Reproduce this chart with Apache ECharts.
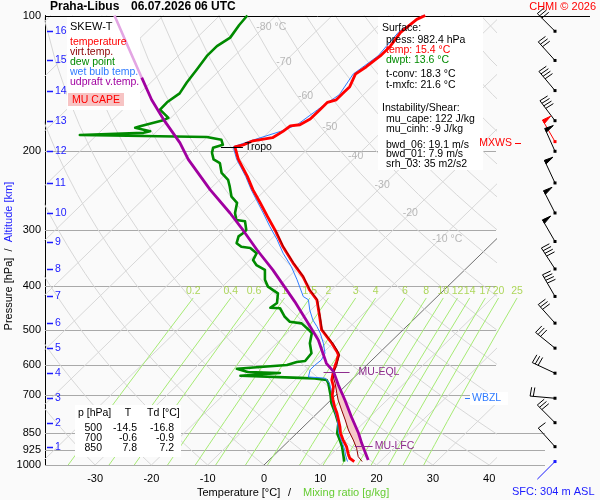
<!DOCTYPE html>
<html><head><meta charset="utf-8">
<script src="https://cdn.jsdelivr.net/npm/echarts@6/dist/echarts.min.js"></script>
<style>html,body{margin:0;padding:0;background:#fafafa}#c{width:600px;height:500px}</style>
</head><body><div id="c"></div>
<script>
// ---------------- data (pressure hPa / temperature °C) ----------------
const tempP = [982.4,966,942,910,880,850,822,794,767,742,717,700,669,647,625,604,589,569,559,536,518,500,468,429,408,381,355,327,300,280,261,244,228,209,196,194,190,187,181,176,175,170,162,156,154,149,144,135,130,123,117,109,102,100];
const tempT = [15.4,14.0,12.8,11.3,9.5,7.8,6.5,5.0,3.5,1.9,0.4,-0.6,-2.0,-3.5,-4.5,-5.4,-6.0,-6.9,-7.8,-10.2,-12.3,-14.5,-17.2,-20.8,-23.9,-27.5,-31.8,-36.5,-41.0,-44.8,-48.6,-52.3,-55.7,-60.4,-63.3,-62.2,-61.2,-58.3,-57.6,-57.3,-55.8,-55.0,-55.0,-55.0,-53.9,-53.9,-53.9,-55.2,-54.6,-54.1,-54.1,-54.8,-54.3,-53.5];

const dewP = [982.4,958,910,880,850,808,767,729,700,658,647,642,640,633,624,621,611,599,590,587,564,536,509,500,484,480,468,448,447,436,415,401,387,368,359,350,338,329,327,321,310,305,300,287,285,275,261,253,240,232,224,213,209,202,197,194,189,186.3,184.5,182.4,181,177.8,176.4,171,169,162,156,149,141,132,123,117,112,105,100];
const dewT = [13.6,12.6,10.5,8.9,7.2,5.6,3.2,0.7,-0.9,-3.5,-4.4,-6.8,-9.5,-20.5,-14.0,-19.9,-22.4,-14.2,-13.0,-11.7,-12.0,-14.1,-15.6,-16.8,-19.2,-21.6,-23.4,-25.8,-27.6,-27.3,-28.9,-31.9,-33.7,-35.5,-37.9,-39.4,-40.0,-42.1,-43.9,-45.4,-46.3,-46.1,-46.1,-47.9,-49.7,-51.2,-52.7,-54.8,-57.0,-58.5,-60.9,-63.0,-64.8,-66.3,-67.0,-65.8,-67.0,-70.1,-93.0,-82.1,-81.2,-84.5,-83.9,-80.9,-80.4,-83.4,-83.5,-82.9,-83.6,-84.2,-84.9,-84.9,-84.1,-84.8,-85.1];

const wetP = [982.4,958,926,895,865,836,794,729,692,658,641,637,614,599,584,564,536,509,492,476,452,429,422,387,362,338,315,295,275,244,228,209,196,190,181,175,162,150,135,123,109,100];
const wetT = [14.2,13.0,11.6,10.0,8.3,6.8,4.8,0.9,-1.1,-3.3,-5.0,-8.2,-9.2,-9.2,-9.0,-9.6,-11.7,-14.1,-15.9,-17.8,-20.2,-22.3,-23.8,-28.0,-31.4,-35.3,-38.9,-42.5,-46.2,-52.6,-56.0,-60.7,-63.6,-61.6,-58.0,-56.3,-55.4,-54.3,-55.6,-54.5,-55.2,-54.0];

const tvP = [982.4,958,918,880,836,794,754,717,692,658,641,620,604,589,569,559,536,518,500,468,429,408,381,355,327,300];
const tvT = [16.8,15.2,13.4,11.3,8.6,6.2,3.7,1.3,-0.2,-2.3,-3.5,-4.7,-5.1,-5.8,-6.7,-7.6,-10.0,-12.2,-14.4,-17.1,-20.7,-23.8,-27.4,-31.7,-36.4,-40.9];

const parcelP = [975,934,895,850,781,717,664,620,594,527,476,433,368,332,300,275,244,209,192,170,154,137.5];
const parcelT = [17.6,15.5,13.4,11.0,6.7,2.5,-1.4,-4.7,-7.5,-13.2,-19.0,-24.4,-34.1,-40.6,-46.7,-52.1,-59.9,-69.3,-73.8,-81.1,-86.7,-92.5];
const parcelUpP = [137.5,118,100];
const parcelUpT = [-92.5,-100.3,-108.7];

const kmVal = [1,2,3,4,5,6,7,8,9,10,11,12,13,14,15,16];
const kmP = [910.4,805.1,710.4,624.8,549.6,483.5,421.7,366.4,318.3,275.0,235.8,200.5,171.4,146.9,125.9,108.4];

const windP   = [108.4,125.9,146.9,171.4,190.8,200.5,235.8,275.0,318.3,366.4,421.7,483.5,549.6,624.8,710.4,805.1,910.4,982.4];
const windDir = [315,318,320,323,330,336,335,333,330,327,330,318,309,295,275,315,318,225];
const windSpd = [30,30,40,40,50,50,50,50,50,40,40,30,30,30,20,30,10,0];
const windKind = ['','','','','max','','','','','','','','','','','','','sfc'];

const markerName = ['Tropo','MU-EQL','MU-LFC'];
const markerP = [196,620,906];
const markerT = [-63.3,-4.7,14.0];
const wbzlP = 710;
const capeTopP = 620, capeBottomP = 935;

const xTicks = [-30,-20,-10,0,10,20,30,40];
const pTicks = [100,200,300,400,500,600,700,850,925,1000];
const isoLabelT = [-80,-70,-60,-50,-40,-30,-20,-10];
const isoLabelP = [106,127,151,177,206,239,275,314];
const isoLabelTxt = ['-80 °C','-70','-60','-50','-40','-30','-20','-10 °C'];
const mrW = [0.2,0.4,0.6,1,1.5,2,3,4,6,8,10,12,14,17,20,25];
const isoList = [-130,-120,-110,-100,-90,-80,-70,-60,-50,-40,-30,-20,-10,10,20,30,40];
const thetaList = [-40,-30,-20,-10,0,10,20,30,40,50,60,70,80,90,100,110,120,130,140,150,160,170,180];

const tableP = ['500','700','850'];
const tableT = ['-14.5','-0.6','7.8'];
const tableTd = ['-16.8','-0.9','7.2'];

// ---------------- helpers ----------------
const FONT = '"Liberation Sans", Arial, sans-serif';
const SKEW = 82.14;
const sx = (T, p) => T + SKEW * Math.log10(1000 / p);
const pts = (P, T) => P.map((p, i) => [sx(T[i], p), p]);
const tdFromW = (w, p) => { const e = w * p / (622 + w); const l = Math.log(e / 6.112); return 243.5 * l / (17.67 - l); };

const series = [];
// isotherms (clipped grid 1)
isoList.forEach(t => series.push({type:'line', xAxisIndex:1, yAxisIndex:1, z:1, silent:true, symbol:'none', animation:false,
  data:[[sx(t,1000),1000],[sx(t,100),100]], lineStyle:{color:'#d7d7d7', width:1}}));
series.push({type:'line', xAxisIndex:1, yAxisIndex:1, z:1, silent:true, symbol:'none',
  data:[[sx(0,1000),1000],[sx(0,100),100]], lineStyle:{color:'#707070', width:1}});
// dry adiabats
const adP = []; for (let p = 1000; p >= 100; p -= 25) adP.push(p);
thetaList.forEach(th => series.push({type:'line', xAxisIndex:1, yAxisIndex:1, z:1, silent:true, symbol:'none',
  data: adP.map(p => [sx((th + 273.15) * Math.pow(p / 1000, 0.2857) - 273.15, p), p]),
  lineStyle:{color:'#d7d7d7', width:1}}));
// mixing ratio lines
const mrPs = [1000,900,800,700,600,500,425];
mrW.forEach(w => series.push({type:'line', z:1, silent:true, symbol:'none',
  data: mrPs.map(p => [sx(tdFromW(w,p),p), p]), lineStyle:{color:'#a6ea74', width:1}}));
series.push({type:'scatter', z:1, silent:true, symbolSize:0, itemStyle:{color:'transparent'},
  data: mrW.map(w => [sx(tdFromW(w,425),425), 425, String(w)]),
  label:{show:true, formatter:d=>d.data[2], position:'inside', align:'center', verticalAlign:'bottom', offset:[0,-1], color:'#9acd32', fontSize:10.5, fontFamily:FONT}});
// isotherm labels
series.push({type:'scatter', z:1, silent:true, symbolSize:0, itemStyle:{color:'transparent'},
  data: isoLabelT.map((t,i) => [sx(t, isoLabelP[i]), isoLabelP[i], isoLabelTxt[i]]),
  label:{show:true, formatter:d=>d.data[2], position:'inside', align:'left', verticalAlign:'middle', offset:[-8,0], color:'#a8a8a8', fontSize:10.5, fontFamily:FONT}});
// pressure lines
const hline = (color) => (params, api) => {
  const cs = params.coordSys; const y = Math.round(api.coord([0, api.value(1)])[1]) + 0.5;
  return {type:'line', shape:{x1:cs.x, y1:y, x2:cs.x+cs.width, y2:y}, style:{stroke:color, lineWidth:1}};
};
series.push({type:'custom', xAxisIndex:1, yAxisIndex:1, z:1, silent:true, data:[200,300,400,500,600,700].map(p=>[0,p]), renderItem:hline('#a9a9a9')});
series.push({type:'custom', z:1, silent:true, data:[850,925,1000].map(p=>[0,p]), renderItem:hline('#a9a9a9')});
series.push({type:'custom', z:4, silent:true, data:[[0,100]], renderItem:(params, api) => {
  const cs = params.coordSys; const y = Math.round(api.coord([0, 100])[1]) + 0.5;
  return {type:'line', shape:{x1:cs.x, y1:y, x2:cs.x+cs.width+45, y2:y}, style:{stroke:'#000', lineWidth:1}};
}});
// CAPE area
const capePoly = pts(parcelP, parcelT).filter(d => d[1] >= capeTopP && d[1] <= capeBottomP)
  .concat(pts(tvP, tvT).filter(d => d[1] >= capeTopP && d[1] <= capeBottomP).reverse());
series.push({type:'custom', z:3, silent:true, data:[[0,500]], renderItem:(params, api) => ({
  type:'polygon', shape:{points: capePoly.map(d => api.coord(d))}, style:{fill:'#f6c8c8', stroke:null}})});
// profiles
const prof = (P, T, color, width, z) => ({type:'line', z, silent:true, symbol:'none', data:pts(P,T), lineStyle:{color, width, join:'round'}});
series.push(prof(dewP, dewT, '#008a00', 2.6, 4));
series.push(prof(wetP, wetT, '#2f7bff', 1, 4));
series.push(prof(tempP, tempT, '#ff0000', 2.8, 4));
series.push(prof(tvP, tvT, '#8b0000', 1, 4));
series.push(prof(parcelUpP, parcelUpT, '#e3a6e3', 2.6, 4));
series.push(prof(parcelP, parcelT, '#a000a0', 2.8, 4));
// markers
const mStyle = {'Tropo':{c:'#000', l:-14, r:8, t:10}, 'MU-EQL':{c:'#8e2d8e', l:-10, r:16, t:25}, 'MU-LFC':{c:'#8e2d8e', l:-8, r:10, t:12}};
series.push({type:'custom', z:6, silent:true, data: markerName.map((n,i) => [sx(markerT[i], markerP[i]), markerP[i], i]),
  renderItem:(params, api) => {
    const [x, y0] = api.coord([api.value(0), api.value(1)]); const y = Math.round(y0) + 0.5;
    const s = mStyle[markerName[api.value(2)]];
    return {type:'group', children:[
      {type:'line', shape:{x1:x+s.l, y1:y, x2:x+s.r, y2:y}, style:{stroke:s.c, lineWidth:1}},
      {type:'text', x:x+s.t, y:y, style:{text:markerName[api.value(2)], fill:s.c, fontSize:10.5, fontFamily:FONT, verticalAlign:'middle'}}
    ]};
  }});
series.push({type:'custom', xAxisIndex:1, yAxisIndex:1, z:6, silent:true, data:[[0, wbzlP]],
  renderItem:(params, api) => {
    const cs = params.coordSys; const y = Math.round(api.coord([0, api.value(1)])[1]) + 0.5;
    const x = cs.x + cs.width - 31;
    return {type:'group', children:[
      {type:'rect', shape:{x:x+5, y:y-6.5, width:38, height:13}, style:{fill:'#fff'}},
      {type:'line', shape:{x1:x, y1:y, x2:x+5, y2:y}, style:{stroke:'#2f7bff', lineWidth:1}},
      {type:'text', x:x+7, y:y, style:{text:'WBZL', fill:'#2f7bff', fontSize:10.5, fontFamily:FONT, verticalAlign:'middle'}}
    ]};
  }});
// altitude labels
series.push({type:'custom', z:6, silent:true, data: kmP.map((p,i) => [0, p, kmVal[i]]),
  renderItem:(params, api) => {
    const cs = params.coordSys; const y = Math.round(api.coord([0, api.value(1)])[1]) + 0.5;
    return {type:'group', children:[
      {type:'line', shape:{x1:cs.x+2, y1:y, x2:cs.x+8, y2:y}, style:{stroke:'#1a1aff', lineWidth:1.5}},
      {type:'text', x:cs.x+10, y:y, style:{text:String(api.value(2)), fill:'#1a1aff', fontSize:10.5, fontFamily:FONT, verticalAlign:'middle'}}
    ]};
  }});
// wind barbs
series.push({type:'custom', xAxisIndex:2, yAxisIndex:2, z:6, silent:true,
  data: windP.map((p,i) => [15, p, windDir[i], windSpd[i], i]),
  renderItem:(params, api) => {
    const [bx, by] = api.coord([api.value(0), api.value(1)]);
    const dir = api.value(2) * Math.PI / 180, spd = api.value(3), kind = windKind[api.value(4)];
    const col = kind === 'max' ? '#ff0000' : kind === 'sfc' ? '#1a1aff' : '#000';
    const L = 25, ux = Math.sin(dir), uy = -Math.cos(dir);
    const tx = bx + ux * L, ty = by + uy * L;
    const a = 95 * Math.PI / 180;
    const vx = ux * Math.cos(a) - uy * Math.sin(a), vy = ux * Math.sin(a) + uy * Math.cos(a);
    const ch = [
      {type:'line', shape:{x1:bx, y1:by, x2:tx, y2:ty}, style:{stroke:col, lineWidth:1}},
      {type:'rect', shape:{x:bx-1.5, y:by-1.5, width:3, height:3}, style:{fill:col}}
    ];
    let s = spd, pos = 0; const BL = 9, step = 3.2;
    while (s >= 50) {
      const p1 = [tx - ux*pos, ty - uy*pos], p2 = [tx - ux*(pos+4), ty - uy*(pos+4)];
      ch.push({type:'polygon', shape:{points:[p1, [p1[0]+vx*BL, p1[1]+vy*BL], p2]}, style:{fill:col, stroke:col, lineWidth:1}});
      pos += 5.5; s -= 50;
    }
    while (s >= 10) {
      const p1 = [tx - ux*pos, ty - uy*pos];
      ch.push({type:'line', shape:{x1:p1[0], y1:p1[1], x2:p1[0]+vx*BL, y2:p1[1]+vy*BL}, style:{stroke:col, lineWidth:1}});
      pos += step; s -= 10;
    }
    if (s >= 5) {
      if (pos === 0) pos = step;
      const p1 = [tx - ux*pos, ty - uy*pos];
      ch.push({type:'line', shape:{x1:p1[0], y1:p1[1], x2:p1[0]+vx*BL/2, y2:p1[1]+vy*BL/2}, style:{stroke:col, lineWidth:1}});
    }
    if (kind === 'max') {
      const y = Math.round(by) + 1.5;
      ch.push({type:'text', x:bx-43, y:y, style:{text:'MXWS', fill:'#ff0000', fontSize:10.5, fontFamily:FONT, align:'right', verticalAlign:'middle'}});
      ch.push({type:'line', shape:{x1:bx-40, y1:y, x2:bx-34, y2:y}, style:{stroke:'#ff0000', lineWidth:1}});
    }
    return {type:'group', children:ch};
  }});

// ---------------- static text ----------------
const G = [];
const rect = (x,y,w,h,fill,z) => G.push({type:'rect', z:z||2, silent:true, shape:{x,y,width:w,height:h}, style:{fill}});
const txt = (x,y,text,fill,o) => { o = o || {}; G.push({type:'text', z:10, silent:true, x, y, rotation:o.rot||0,
  style:{text, fill:fill||'#000', fontSize:o.size||10.5, fontFamily:FONT, fontWeight:o.bold?'bold':'normal', align:o.align||'left', verticalAlign:'middle'}}); };
rect(67,16,73,94,'#ffffff');
rect(68,93,56,13,'#f7c4c4',3);
rect(378,16,105,154,'#ffffff');
rect(75,405,106,52,'#ffffff');

txt(50,7,'Praha-Libus','#000',{bold:true,size:12});
txt(131,7,'06.07.2026 06 UTC','#000',{bold:true,size:12});
txt(596,7,'CHMI © 2026','#ff0000',{align:'right',size:11});

txt(70,27,'SKEW-T','#000',{size:11});
txt(70,42,'temperature','#ff0000');
txt(70,52,'virt.temp.','#8b0000');
txt(70,62,'dew point','#008a00');
txt(70,72,'wet bulb temp.','#2f7bff');
txt(70,82,'udpraft v.temp.','#a000a0');
txt(96,100,'MU CAPE','#ff0000',{align:'center'});

txt(382,28,'Surface:');
txt(386,40,'press: 982.4 hPa');
txt(386,50,'temp: 15.4 °C','#ff0000');
txt(386,60,'dwpt: 13.6 °C','#008a00');
txt(386,74,'t-conv: 18.3 °C');
txt(386,85,'t-mxfc: 21.6 °C');
txt(382,108,'Instability/Shear:');
txt(386,119,'mu_cape: 122 J/kg');
txt(386,129,'mu_cinh: -9 J/kg');
txt(386,145,'bwd_06: 19.1 m/s');
txt(386,154,'bwd_01: 7.9 m/s');
txt(386,164,'srh_03: 35 m2/s2');

txt(78,413,'p [hPa]');
txt(128,413,'T','#000',{align:'center'});
txt(147,413,'Td [°C]');
tableP.forEach((v,i) => { const y = 428 + i*10;
  txt(102,y,v,'#000',{align:'right'}); txt(137,y,tableT[i],'#000',{align:'right'}); txt(174,y,tableTd[i],'#000',{align:'right'}); });

txt(9,212,'Altitude [km]','#1a1aff',{rot:Math.PI/2,align:'center',size:11});
txt(9,250,'/','#000',{rot:Math.PI/2,align:'center',size:11});
txt(9,294,'Pressure [hPa]','#000',{rot:Math.PI/2,align:'center',size:11});
txt(197,493,'Temperature [°C]','#000',{size:11});
txt(288,493,'/','#000',{size:11});
txt(303,493,'Mixing ratio [g/kg]','#66cc33',{size:11});
txt(512,492,'SFC: 304 m ASL','#1a1aff',{size:11});

const option = {
  backgroundColor:'#fafafa', animation:false,
  textStyle:{fontFamily:FONT},
  grid:[
    {left:45, right:55, top:15.5, bottom:35},
    {left:45, right:104, top:15.5, bottom:35},
    {left:540, right:0, top:15.5, bottom:35}
  ],
  xAxis:[
    {gridIndex:0, type:'value', min:-38.9, max:49.91, axisLine:{show:false}, axisTick:{show:false}, splitLine:{show:false},
     axisLabel:{customValues:xTicks, formatter:v=>String(Math.round(v)), fontSize:11, color:'#000', margin:8, fontFamily:FONT}},
    {gridIndex:1, type:'value', min:-38.9, max:41.21, show:false, splitLine:{show:false}},
    {gridIndex:2, type:'value', min:0, max:60, show:false, splitLine:{show:false}}
  ],
  yAxis:[
    {gridIndex:0, type:'log', logBase:10, min:100, max:1000, inverse:true, position:'left',
     axisLine:{show:true, onZero:false, lineStyle:{color:'#000', width:1}}, axisTick:{show:false}, splitLine:{show:false}, minorSplitLine:{show:false},
     axisLabel:{customValues:pTicks, formatter:v=>String(Math.round(v)), fontSize:11, color:'#000', margin:4, fontFamily:FONT}},
    {gridIndex:1, type:'log', logBase:10, min:100, max:1000, inverse:true, show:false, splitLine:{show:false}},
    {gridIndex:2, type:'log', logBase:10, min:100, max:1000, inverse:true, show:false, splitLine:{show:false}}
  ],
  series,
  graphic:{elements:G}
};
const chart = echarts.init(document.getElementById('c'));
chart.setOption(option);
</script>
</body></html>
